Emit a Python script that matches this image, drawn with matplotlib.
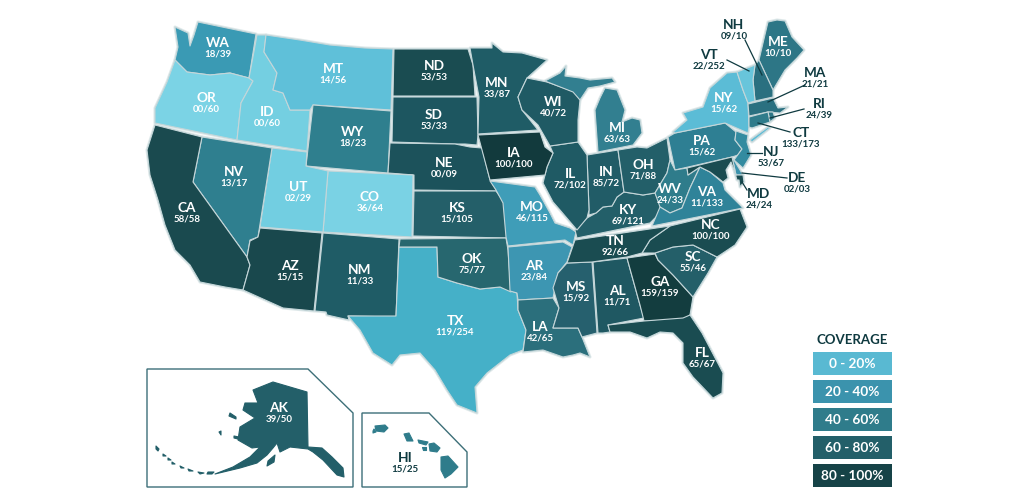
import matplotlib
matplotlib.use("Agg")
import matplotlib.pyplot as plt
from matplotlib.patches import Polygon, Rectangle

plt.rcParams['font.family'] = ['Lato', 'DejaVu Sans']

# ---- data as printed on the map -------------------------------------------
states = ["WA","OR","ID","MT","WY","ND","SD","NE","KS","CO","UT","NV","CA","AZ","NM","TX","OK",
          "MO","AR","LA","MS","AL","GA","FL","SC","NC","TN","KY","IN","IL","IA","MN","WI","MI",
          "OH","PA","WV","VA","NY","ME","NH","VT","MA","RI","CT","NJ","DE","MD","AK","HI"]
counts = ["18/39","00/60","00/60","14/56","18/23","53/53","53/33","00/09","15/105","36/64","02/29",
          "13/17","58/58","15/15","11/33","119/254","75/77","46/115","23/84","42/65","15/92","11/71",
          "159/159","65/67","55/46","100/100","92/66","69/121","85/72","72/102","100/100","33/87",
          "40/72","63/63","71/88","15/62","24/33","11/133","15/62","10/10","09/10","22/252","21/21",
          "24/39","133/173","53/67","02/03","24/24","39/50","15/25"]
legend_labels = ["0 - 20%","20 - 40%","40 - 60%","60 - 80%","80 - 100%"]
legend_colors = ["#59b9d2","#3b93ad","#2f7c8b","#235f69","#164347"]

state_colors = dict(WA="#3a9ab4",OR="#7bd3e5",ID="#74cfe1",MT="#5fc0d9",WY="#2f7f8e",ND="#1a4c51",
    SD="#1d5660",NE="#1c525b",KS="#245f69",CO="#7ad2e4",UT="#72cee1",NV="#2f7f8f",CA="#1a4a4f",
    AZ="#19484d",NM="#1f5c66",TX="#45b0c8",OK="#27676f",MO="#3f9db8",AR="#3d96b2",LA="#2b6f7c",
    MS="#26606e",AL="#1f5862",GA="#133d3f",FL="#1a4c51",SC="#245f69",NC="#1a4c51",TN="#1a4c51",
    KY="#235f69",IN="#215c67",IL="#1f5a64",IA="#123a3d",MN="#1f5c66",WI="#1f5a64",MI="#327f90",
    OH="#235f69",PA="#2e7f93",WV="#2f7c8b",VA="#2f8399",NY="#5bbcd6",ME="#2d7686",NH="#2a7080",
    VT="#68c5db",MA="#2a7080",RI="#2d7686",CT="#2f7c8b",NJ="#338ba0",DE="#3b93ad",MD="#1a4c51",
    AK="#235f69",HI="#2f7c8b")

# state outlines, in its pixel grid
outlines = {
 "WA":[[(175,27),(188,33),(190,46),(194,35),(198,22),(256,34),(249,78),(230,73),(210,75),(187,72),(175,60),(178,47)]],
 "OR":[[(175,60),(187,72),(210,75),(230,73),(249,78),(253,81),(241,103),(237,140),(155,123),(155,108),(167,82)]],
 "ID":[[(257,35),(266,35),(264,52),(277,73),(273,90),(283,93),(290,110),(310,110),(307,151),(237,140),(241,103),(253,81),(249,78)]],
 "MT":[[(266,35),(300,40),(330,45),(365,48),(393,49),(391,110),(313,105),(310,110),(290,110),(283,93),(273,90),(277,73),(264,52)]],
 "WY":[[(313,105),(391,111),(388,173),(306,166)]],
 "ND":[[(394,49),(468,49),(473,65),(475,96),(393,96)]],
 "SD":[[(393,97),(477,97),(478,135),(477,145),(465,144),(455,144),(392,142)]],
 "NE":[[(390,143),(455,144),(470,147),(482,148),(490,180),(497,191),(414,190),(414,175),(388,173)]],
 "KS":[[(414,191),(496,191),(504,202),(507,238),(413,236)]],
 "CO":[[(328,171),(413,175),(412,237),(323,232)]],
 "UT":[[(272,148),(307,152),(306,166),(328,171),(323,232),(260,227)]],
 "NV":[[(202,137),(272,148),(258,237),(250,240),(247,257),(193,182)]],
 "CA":[[(155,125),(202,137),(193,182),(247,257),(250,265),(243,290),(225,287),(200,282),(190,265),(175,250),(165,225),(158,200),(150,175),(147,150)]],
 "AZ":[[(258,237),(260,228),(322,233),(314,311),(283,308),(243,290),(250,265),(247,257),(250,241)]],
 "NM":[[(323,233),(399,239),(396,317),(348,316),(349,320),(327,315),(326,312),(315,311)]],
 "TX":[[(399,247),(437,247),(438,277),(457,283),(480,289),(500,287),(517,293),(518,310),(526,330),(523,350),(510,355),(487,373),(475,387),(477,413),(457,405),(447,390),(435,370),(420,353),(400,355),(392,365),(373,353),(360,330),(348,316),(396,316)]],
 "OK":[[(400,239),(506,238),(508,250),(511,292),(500,287),(480,289),(457,283),(438,277),(437,247),(399,247)]],
 "MO":[[(490,181),(535,187),(540,195),(550,213),(555,223),(570,228),(576,232),(573,245),(565,240),(508,246),(506,237),(503,203),(496,190)]],
 "AR":[[(508,247),(563,242),(572,247),(567,262),(558,273),(553,298),(518,300),(517,293),(510,291)]],
 "LA":[[(518,300),(553,298),(559,308),(553,328),(578,328),(582,337),(590,357),(580,353),(573,355),(563,357),(543,350),(523,352),(526,330),(518,310)]],
 "MS":[[(567,263),(592,262),(597,333),(582,337),(578,328),(553,328),(559,308),(553,288),(558,273)]],
 "AL":[[(593,262),(627,258),(640,305),(644,318),(608,325),(610,332),(603,333),(598,333)]],
 "GA":[[(627,258),(655,254),(658,260),(673,275),(693,297),(690,315),(683,320),(644,321),(640,305)]],
 "FL":[[(608,325),(644,321),(683,318),(690,315),(702,333),(723,373),(722,393),(713,398),(693,377),(683,363),(683,343),(673,333),(660,332),(647,338),(630,332),(610,332)]],
 "SC":[[(655,253),(673,247),(693,245),(717,257),(708,273),(693,297),(673,275),(658,260)]],
 "NC":[[(740,209),(747,227),(735,245),(717,257),(693,245),(673,247),(655,253),(642,253),(650,240),(670,226)]],
 "TN":[[(575,240),(670,226),(650,240),(642,253),(627,257),(592,262),(567,263)]],
 "KY":[[(624,192),(643,195),(655,193),(663,210),(650,223),(577,238),(575,230),(587,218),(596,213),(603,207),(612,206),(617,197)]],
 "IN":[[(587,155),(618,150),(624,192),(617,197),(612,206),(603,207),(596,213),(589,215),(589,210)]],
 "IL":[[(550,146),(578,142),(587,155),(589,210),(587,218),(577,230),(560,210),(553,202),(543,183),(547,167),(553,153)]],
 "IA":[[(478,135),(540,132),(545,147),(553,153),(547,167),(545,175),(490,180)]],
 "MN":[[(470,48),(492,48),(492,43),(503,52),(522,53),(547,60),(527,78),(518,97),(522,110),(538,130),(478,134),(479,97),(473,65)]],
 "WI":[[(527,78),(547,82),(575,92),(580,100),(578,120),(578,142),(550,146),(542,132),(538,125),(522,110),(518,97)]],
 "MI":[[(545,81),(560,73),(566,66),(565,76),(580,78),(590,80),(612,78),(615,82),(600,86),(588,88),(580,100),(573,92)],
       [(605,88),(617,90),(625,110),(622,122),(632,118),(640,120),(642,133),(633,145),(598,152),(595,110),(600,98)]],
 "OH":[[(618,150),(637,147),(647,148),(667,138),(670,160),(667,173),(655,193),(643,195),(624,192)]],
 "PA":[[(668,137),(675,133),(725,123),(736,132),(735,140),(742,149),(738,155),(732,157),(675,170)]],
 "WV":[[(670,160),(675,170),(687,168),(688,175),(700,167),(690,188),(682,208),(670,213),(660,207),(655,193),(667,173)]],
 "VA":[[(700,167),(710,172),(723,183),(725,190),(735,200),(743,208),(652,226),(660,207),(670,213),(682,208),(690,188)]],
 "NY":[[(675,133),(725,123),(748,133),(749,127),(748,103),(743,90),(737,72),(727,73),(710,88),(703,107),(683,113),(687,120),(673,132)],
       [(750,140),(768,127),(770,128),(752,142)]],
 "ME":[[(759,60),(768,22),(777,20),(785,21),(792,37),(804,50),(797,58),(785,70),(773,90)]],
 "NH":[[(755,65),(759,60),(773,90),(773,97),(755,101),(753,80)]],
 "VT":[[(737,72),(755,65),(753,80),(755,101),(748,103),(743,90)]],
 "MA":[[(748,104),(773,98),(778,108),(788,107),(780,113),(768,112),(749,116)]],
 "RI":[[(768,112),(773,112),(775,118),(770,122)]],
 "CT":[[(749,117),(768,112),(770,122),(752,128),(749,127)]],
 "NJ":[[(736,131),(748,135),(747,142),(751,155),(743,168),(734,160),(742,149),(735,140)]],
 "DE":[[(732,157),(734,160),(743,175),(736,175)]],
 "MD":[[(687,168),(732,157),(736,175),(743,175),(744,182),(740,187),(739,180),(737,180),(734,170),(731,162),(726,170),(728,178),(723,182),(718,178),(710,172),(700,167),(688,175)]],
 "AK":[[(253,390),(273,382),(307,392),(308,447),(322,448),(332,457),(343,468),(344,477),(337,475),(323,460),(313,452),(308,449),(290,447),(280,452),(277,443),(273,448),(267,455),(257,463),(240,468),(215,474),(233,467),(250,457),(260,447),(252,448),(238,440),(240,427),(255,418),(243,410),(245,403),(258,403)],
       [(230,413),(236,417),(236,419),(229,416)],[(234,436),(239,437),(238,439),(234,438)],
       [(268,461),(275,455),(274,462),(267,466)],[(208,472),(214,472),(212,474),(207,474)],
       [(198,472),(204,473),(200,474)],[(188,469),(193,471),(189,471)],[(180,466),(184,468),(181,468)],
       [(172,462),(175,464),(172,464)],[(168,458),(171,460),(168,460)],[(163,454),(166,456),(163,456)],
       [(156,446),(159,449),(158,451),(156,449)],[(219,432),(221,431),(221,435)]],
 "HI":[[(375,426),(385,425),(388,428),(384,432),(376,431)],[(373,431),(374,429),(376,432),(373,433)],
       [(404,434),(409,433),(413,441),(407,441)],[(418,440),(428,442),(426,445),(419,443)],
       [(429,444),(434,443),(440,448),(437,452),(430,451)],[(422,447),(426,447),(426,450),(423,450)],
       [(441,457),(448,456),(458,467),(451,474),(445,478),(441,470)]],
}

label_xy = dict(WA=(218,43),OR=(206,98),ID=(267,112),MT=(333,69),WY=(353,132),ND=(434,66),SD=(434,115),
    NE=(444,163),KS=(457,208),CO=(370,197),UT=(298,187),NV=(234,172),CA=(187,208),AZ=(290,266),NM=(360,270),
    TX=(455,321),OK=(472,259),MO=(532,207),AR=(534,266),LA=(540,327),MS=(576,287),AL=(617,291),GA=(660,282),
    FL=(702,353),SC=(693,257),NC=(711,225),TN=(615,241),KY=(628,210),IN=(606,172),IL=(570,174),IA=(514,153),
    MN=(497,83),WI=(553,102),MI=(617,128),OH=(643,165),PA=(702,141),WV=(670,189),VA=(707,192),NY=(724,98),
    ME=(778,42),NH=(734,25),VT=(709,55),MA=(815,73),RI=(819,104),CT=(801,133),NJ=(771,152),DE=(797,178),
    MD=(759,194),AK=(279,408),HI=(405,458))
outside = {"NH","VT","MA","RI","CT","NJ","DE","MD","HI"}
insets = {"AK","HI"}
leaders = [((745,40),(762,75)),((727,60),(749,71)),((805,85),(768,102)),((804,109),(770,118)),
           ((790,132),(758,123)),((762,153),(747,153)),((787,178),(742,173)),((747,190),(742,182))]
inset_frames = [[(147,369),(308,369),(353,413),(353,487),(147,487)],
                [(362,413),(429,413),(467,452),(467,487),(362,487)]]

DARK = "#0f3a40"
fig = plt.figure(figsize=(10.24,4.99), dpi=100, facecolor="white")
ax = fig.add_axes([0,0,1,1])
ax.set_xlim(0,1024); ax.set_ylim(499,0); ax.axis("off")

for st in states:
    if st in insets:
        continue
    for ring in outlines[st]:
        ax.add_patch(Polygon(ring, closed=True, fc="#dfe9ea", ec="#dfe9ea", lw=2.2, joinstyle="round", zorder=1.5))
for st in states:
    edge = state_colors[st] if st in insets else "#c4d6d9"
    for ring in outlines[st]:
        ax.add_patch(Polygon(ring, closed=True, fc=state_colors[st], ec=edge, lw=0.8, joinstyle="round", zorder=2))

for frame in inset_frames:
    ax.add_patch(Polygon(frame, closed=True, fc="none", ec="#3d6f78", lw=1.0, zorder=1))

for a, b in leaders:
    ax.plot([a[0],b[0]],[a[1],b[1]], color=DARK, lw=0.9, zorder=3)

for st, txt in zip(states, counts):
    x, y = label_xy[st]
    c = DARK if st in outside else "white"
    ax.text(x, y, st, ha="center", va="center", color=c, fontsize=9.8, fontweight="bold", zorder=4)
    ax.text(x, y+11, txt, ha="center", va="center", color=c, fontsize=7, fontweight="bold", zorder=4)

ax.text(852, 340, "COVERAGE", ha="center", va="center", color=DARK, fontsize=9.5, fontweight="bold")
for i, (lab, col) in enumerate(zip(legend_labels, legend_colors)):
    top = 352 + i*28
    ax.add_patch(Rectangle((813,top), 79, 23, fc=col, ec="none"))
    ax.text(852.5, top+11.5, lab, ha="center", va="center", color="white", fontsize=9.8, fontweight="bold")

fig.savefig("out.png", dpi=100, facecolor="white")
